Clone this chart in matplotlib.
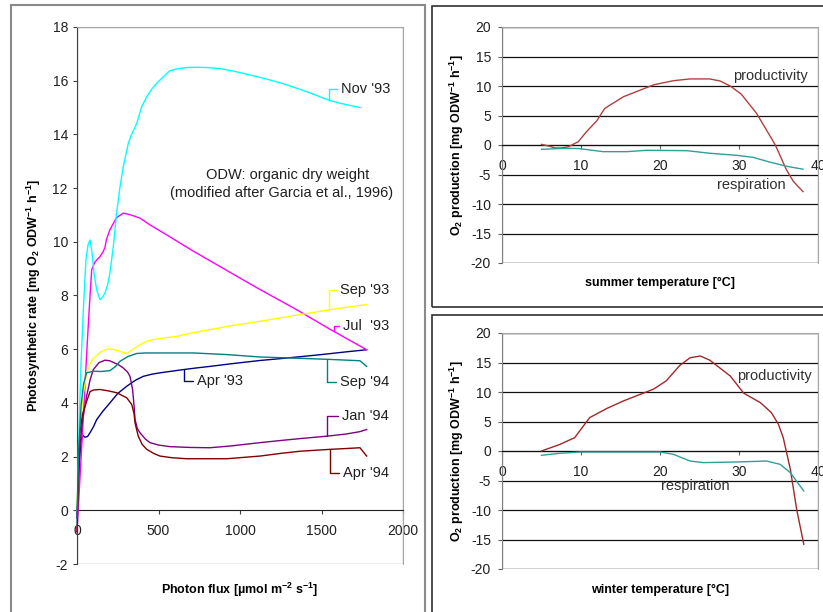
import matplotlib
matplotlib.use("Agg")
import matplotlib.pyplot as plt
from matplotlib.patches import Rectangle

plt.rcParams['font.family'] = ['Liberation Sans', 'DejaVu Sans']
plt.rcParams['mathtext.fontset'] = 'custom'
plt.rcParams['mathtext.rm'] = 'Liberation Sans:bold'
plt.rcParams['mathtext.it'] = 'Liberation Sans:bold'
plt.rcParams['mathtext.bf'] = 'Liberation Sans:bold'
plt.rcParams['mathtext.default'] = 'rm'
plt.rcParams['axes.unicode_minus'] = False

# ---------------- data: photosynthesis vs photon flux ----------------
nov93_x = [0, 10, 25, 40, 55, 68, 80, 92, 105, 121, 141, 158, 172, 188, 202, 223, 243, 264, 284, 315,
           335, 366, 397, 428, 460, 489, 530, 570, 620, 673, 735, 796, 880, 957, 1060, 1164, 1270, 1368,
           1450, 1532, 1620, 1690, 1736]
nov93_y = [-0.6, 2.5, 5.5, 7.6, 9.33, 9.9, 10.07, 9.6, 8.8, 8.2, 7.84, 7.95, 8.1, 8.4, 8.84, 9.83, 11.07,
           12.05, 12.8, 13.67, 14.0, 14.4, 15.03, 15.4, 15.7, 15.9, 16.15, 16.37, 16.45, 16.49, 16.5, 16.49,
           16.45, 16.36, 16.22, 16.06, 15.88, 15.68, 15.5, 15.3, 15.15, 15.06, 15.0]

jul93_x = [0, 10, 20, 40, 59, 75, 90, 110, 141, 161, 172, 180, 202, 243, 284, 330, 387, 450, 550, 700,
           900, 1100, 1348, 1550, 1777]
jul93_y = [-0.8, 0.3, 1.4, 3.6, 5.8, 7.5, 8.96, 9.25, 9.45, 9.64, 9.8, 10.07, 10.45, 10.9, 11.07, 11.0,
           10.88, 10.62, 10.26, 9.7, 9.0, 8.3, 7.47, 6.75, 5.98]

sep93_x = [0, 10, 20, 35, 59, 80, 100, 140, 182, 215, 243, 275, 305, 340, 386, 430, 468, 540, 611, 700,
           816, 950, 1123, 1250, 1368, 1500, 1650, 1777]
sep93_y = [0.0, 1.8, 3.0, 4.2, 5.1, 5.45, 5.65, 5.88, 6.0, 6.0, 5.96, 5.9, 5.84, 5.98, 6.17, 6.3, 6.36,
           6.42, 6.48, 6.6, 6.73, 6.88, 7.04, 7.17, 7.29, 7.42, 7.56, 7.66]

sep94_x = [0, 10, 25, 40, 59, 100, 150, 202, 235, 264, 310, 366, 420, 509, 714, 918, 1123, 1368, 1550,
           1736, 1777]
sep94_y = [-0.3, 2.2, 3.9, 4.7, 5.12, 5.18, 5.17, 5.2, 5.35, 5.55, 5.72, 5.84, 5.86, 5.86, 5.86, 5.8,
           5.71, 5.66, 5.62, 5.57, 5.36]

apr93_x = [0, 10, 25, 35, 49, 65, 80, 100, 121, 160, 202, 250, 305, 360, 407, 460, 509, 580, 652, 730,
           816, 950, 1123, 1250, 1368, 1500, 1650, 1777]
apr93_y = [-0.3, 1.5, 2.6, 2.8, 2.72, 2.75, 2.89, 3.1, 3.38, 3.7, 4.0, 4.35, 4.62, 4.85, 4.99, 5.07,
           5.12, 5.18, 5.24, 5.3, 5.36, 5.46, 5.58, 5.65, 5.72, 5.8, 5.9, 5.98]

jan94_x = [0, 10, 18, 35, 59, 80, 100, 135, 172, 200, 223, 255, 284, 310, 325, 341, 350, 356, 370, 386,
           420, 448, 500, 571, 700, 816, 950, 1123, 1250, 1368, 1532, 1650, 1736, 1777]
jan94_y = [-0.3, 1.2, 2.39, 3.4, 4.25, 4.85, 5.24, 5.5, 5.59, 5.57, 5.51, 5.42, 5.3, 5.15, 4.99, 4.5,
           3.9, 3.38, 3.05, 2.89, 2.65, 2.52, 2.43, 2.37, 2.34, 2.33, 2.4, 2.52, 2.6, 2.67, 2.76, 2.84,
           2.93, 3.01]

apr94_x = [0, 8, 18, 35, 59, 80, 100, 141, 190, 243, 305, 336, 350, 356, 366, 376, 400, 428, 470, 509,
           580, 673, 800, 918, 1123, 1250, 1368, 1552, 1650, 1736, 1777]
apr94_y = [-0.8, 1.0, 2.9, 3.6, 4.05, 4.42, 4.48, 4.5, 4.45, 4.38, 4.19, 3.94, 3.6, 3.26, 3.0, 2.76,
           2.45, 2.27, 2.12, 2.02, 1.96, 1.92, 1.92, 1.92, 2.02, 2.12, 2.2, 2.27, 2.3, 2.33, 2.02]

flux_xticks = [0, 500, 1000, 1500, 2000]
rate_yticks = [-2, 0, 2, 4, 6, 8, 10, 12, 14, 16, 18]

# series: (name, x, y, color, label anchor on curve, label text position)
series = [
    ("Apr '93", apr93_x, apr93_y, '#000080', (656, 5.24), (738, 4.81)),
    ("Jul  '93", jul93_x, jul93_y, '#FF00FF', (1579, 6.69), (1632, 6.85)),
    ("Sep '93", sep93_x, sep93_y, '#FFFF00', (1548, 7.45), (1613, 8.22)),
    ("Nov '93", nov93_x, nov93_y, '#00FFFF', (1546, 15.28), (1618, 15.69)),
    ("Jan '94", jan94_x, jan94_y, '#800080', (1532, 2.76), (1624, 3.5)),
    ("Apr '94", apr94_x, apr94_y, '#800000', (1552, 2.27), (1634, 1.4)),
    ("Sep '94", sep94_x, sep94_y, '#008080', (1532, 5.61), (1613, 4.78)),
]

# ---------------- data: O2 production vs temperature ----------------
sum_prod_x = [5, 6, 6.7, 7.5, 8.4, 9.66, 10.7, 12, 13, 15.4, 17.5, 19.2, 21.7, 23.8, 26.3, 27.6, 28.9,
              30.3, 32.2, 33.5, 34.6, 36.0, 36.9, 38.1]
sum_prod_y = [0.1, -0.2, -0.5, -0.5, -0.3, 0.56, 2.26, 4.1, 6.2, 8.2, 9.3, 10.2, 10.9, 11.2, 11.2, 10.85,
              10.0, 8.6, 5.4, 2.5, 0.0, -4.2, -6.2, -7.9]
sum_resp_x = [5, 8.2, 9.7, 12.8, 15.8, 18.3, 23.4, 26.3, 29.7, 31.8, 33.9, 36, 38.1]
sum_resp_y = [-0.73, -0.56, -0.6, -1.13, -1.13, -0.9, -0.96, -1.4, -1.75, -2.1, -2.9, -3.6, -4.1]

win_prod_x = [5, 7.3, 9.2, 11.1, 13.25, 15.4, 17.5, 19.2, 20.8, 22.5, 23.8, 25.1, 26.3, 28.9, 30.6, 32.7,
              34.1, 35.0, 35.6, 36.5, 37.3, 38.2]
win_prod_y = [0.0, 1.1, 2.26, 5.66, 7.2, 8.5, 9.6, 10.5, 11.9, 14.5, 15.8, 16.1, 15.4, 12.7, 9.8, 8.2,
              6.5, 4.5, 2.26, -3.1, -9.9, -15.8]
win_resp_x = [5, 7.3, 9.9, 15.3, 20, 21.7, 23.8, 25.5, 29.7, 33.5, 35.2, 36.5, 38.2]
win_resp_y = [-0.73, -0.39, -0.17, -0.17, -0.17, -0.56, -1.7, -1.97, -1.86, -1.7, -2.26, -3.67, -6.78]

temp_xticks = [0, 10, 20, 30, 40]
o2_yticks = [-20, -15, -10, -5, 0, 5, 10, 15, 20]

W, H = 823, 612
fig = plt.figure(figsize=(W / 100, H / 100), dpi=100)


def frac(x0, y0, x1, y1):
    return [x0 / W, 1 - y1 / H, (x1 - x0) / W, (y1 - y0) / H]


# panel frames
for (x0, y0, x1, y1, col, lw) in [(11, 5, 425, 640, '#8a8a8a', 1.5),
                                   (432, 6, 840, 307, '#303030', 1.2),
                                   (432, 315, 840, 640, '#303030', 1.2)]:
    fig.patches.append(Rectangle((x0 / W, 1 - y1 / H), (x1 - x0) / W, (y1 - y0) / H,
                                 transform=fig.transFigure, fill=False, edgecolor=col, lw=lw))

BORDER = '#a8a8a8'
AXC = '#404040'

# ---------------- left panel ----------------
ax = fig.add_axes(frac(77, 27, 403, 564))
ax.set_xlim(0, 2000)
ax.set_ylim(-2, 18)
for s in ['top', 'right']:
    ax.spines[s].set_color(BORDER)
ax.spines['left'].set_color(AXC)
ax.spines['bottom'].set_position(('data', 0))
ax.spines['bottom'].set_color('#202020')
ax.add_patch(Rectangle((0, 0), 1, 1, transform=ax.transAxes, fill=False, edgecolor=BORDER, lw=1,
                       zorder=0.5))
ax.set_xticks(flux_xticks)
ax.set_yticks(rate_yticks)
ax.tick_params(axis='both', direction='out', length=3, width=0.8, color=AXC, labelsize=10,
               labelcolor='#202020')
ax.tick_params(axis='x', pad=7)
ax.tick_params(axis='y', pad=3.5)

for name, xs, ys, col, anchor, tpos in series:
    ax.plot(xs, ys, color=col, lw=1.0, zorder=3, clip_on=False)
    ax.annotate(name, xy=anchor, xytext=tpos, textcoords='data', ha='left', va='center',
                fontsize=10.5, color='#202020',
                arrowprops=dict(arrowstyle='-', color=col, lw=1.0, shrinkA=1, shrinkB=0,
                                relpos=(0, 0.5),
                                connectionstyle='angle,angleA=180,angleB=90,rad=0'))

ax.text(1294, 12.49, 'ODW: organic dry weight', ha='center', va='center', fontsize=10.5,
        color='#202020')
ax.text(1257, 11.82, '(modified after Garcia et al., 1996)', ha='center', va='center', fontsize=10.5,
        color='#202020')

fig.text(34 / W, 1 - 295 / H, r'Photosynthetic rate [mg O$_2$ ODW$^{-1}$ h$^{-1}$]', rotation=90,
         ha='center', va='center', fontsize=9, fontweight='bold')
fig.text(240 / W, 1 - 590 / H, r'Photon flux [µmol m$^{-2}$ s$^{-1}$]', ha='center', va='center',
         fontsize=9, fontweight='bold')


# ---------------- right panels ----------------
def temp_panel(rect, px, py, rx, ry, xlabel, xlab_y, prod_pos, resp_pos, prod_col, yc):
    a = fig.add_axes(frac(*rect))
    a.set_xlim(0, 40)
    a.set_ylim(-20, 20)
    for s in ['top', 'right']:
        a.spines[s].set_color(BORDER)
    a.spines['left'].set_color('#808080')
    a.spines['bottom'].set_position(('data', 0))
    a.spines['bottom'].set_color('#101010')
    a.add_patch(Rectangle((0, 0), 1, 1, transform=a.transAxes, fill=False, edgecolor=BORDER, lw=1,
                          zorder=0.5))
    a.set_xticks(temp_xticks)
    a.set_yticks(o2_yticks)
    a.yaxis.grid(True, color='#101010', lw=0.9)
    a.set_axisbelow(True)
    a.tick_params(axis='both', direction='out', length=3, width=0.8, color='#606060', labelsize=10,
                  labelcolor='#202020')
    a.tick_params(axis='x', pad=7)
    a.tick_params(axis='y', pad=5)
    a.plot(px, py, color=prod_col, lw=1.0, zorder=3)
    a.plot(rx, ry, color='#2f9f9a', lw=1.0, zorder=3)
    a.text(prod_pos[0], prod_pos[1], 'productivity', ha='left', va='center', fontsize=10.5,
           color='#303030')
    a.text(resp_pos[0], resp_pos[1], 'respiration', ha='left', va='center', fontsize=10.5,
           color='#303030')
    fig.text(457 / W, 1 - yc / H, r'O$_2$ production [mg ODW$^{-1}$ h$^{-1}$]', rotation=90,
             ha='center', va='center', fontsize=9, fontweight='bold')
    fig.text(660 / W, 1 - xlab_y / H, xlabel, ha='center', va='center', fontsize=9,
             fontweight='bold')
    return a


temp_panel((502, 27, 818, 263), sum_prod_x, sum_prod_y, sum_resp_x, sum_resp_y,
           'summer temperature [°C]', 283, (29.24, 11.7), (27.2, -6.78), '#b04040', 145)
temp_panel((502, 333, 818, 569), win_prod_x, win_prod_y, win_resp_x, win_resp_y,
           'winter temperature [°C]', 590, (29.75, 12.66), (20.1, -5.98), '#a02828', 451)

fig.savefig('out.png', dpi=100)
